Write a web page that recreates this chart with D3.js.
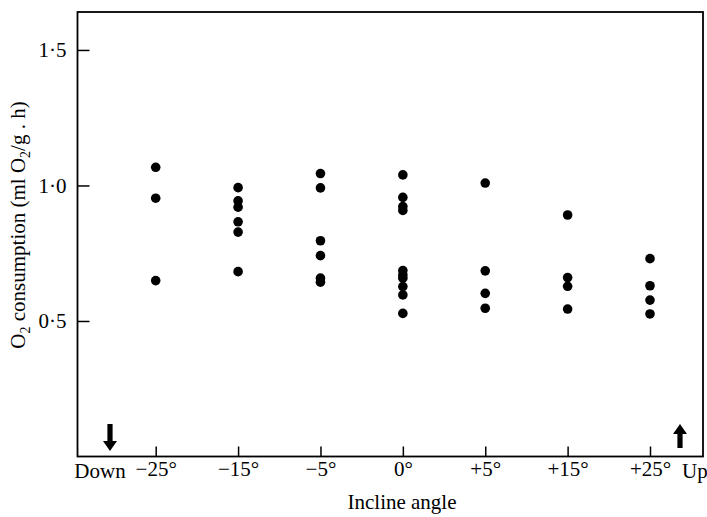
<!DOCTYPE html>
<html>
<head>
<meta charset="utf-8">
<script src="https://cdn.jsdelivr.net/npm/d3@7"></script>
<style>
  body { margin: 0; background: #fff; }
  svg { display: block; }
  text { font-family: "Liberation Serif", "DejaVu Serif", serif; fill: #000; }
</style>
</head>
<body>
<div id="chart"></div>
<script>
// incline angle categories (x axis)
var angles = ["\u221225\u00b0", "\u221215\u00b0", "\u22125\u00b0", "0\u00b0", "+5\u00b0", "+15\u00b0", "+25\u00b0"];

// O2 consumption (ml O2/g.h), one list per angle
var o2_m25 = [1.067, 0.953, 0.649];
var o2_m15 = [0.992, 0.943, 0.920, 0.866, 0.828, 0.682];
var o2_m5  = [1.044, 0.991, 0.796, 0.741, 0.658, 0.643];
var o2_0   = [1.039, 0.956, 0.922, 0.908, 0.686, 0.670, 0.658, 0.627, 0.596, 0.528];
var o2_p5  = [1.009, 0.685, 0.602, 0.547];
var o2_p15 = [0.891, 0.660, 0.628, 0.544];
var o2_p25 = [0.730, 0.630, 0.577, 0.526];

var yTicks = [0.5, 1.0, 1.5];

var groups = [o2_m25, o2_m15, o2_m5, o2_0, o2_p5, o2_p15, o2_p25];
var points = [];
groups.forEach(function(g, i){
	g.forEach(function(v){ points.push({angle: angles[i], value: v}); });
});

var W = 707, H = 517;
var mLeft = 77.5, mRight = 703, mTop = 12, mBottom = 456.5;
var fs = "21px";

var svg = d3.select("#chart").append("svg")
	.attr("width", W).attr("height", H);

var x = d3.scalePoint().domain(angles).range([155.7, 650]);
var y = d3.scaleLinear().domain([0, 1.64]).range([mBottom, mTop]);

// frame
svg.append("rect")
	.attr("x", mLeft).attr("y", mTop)
	.attr("width", mRight - mLeft).attr("height", mBottom - mTop)
	.attr("fill", "none").attr("stroke", "#000").attr("stroke-width", 1.8);

var fmt = function(d){ return d3.format(".1f")(d).replace(".", "\u00b7"); };

var yAxis = svg.append("g")
	.attr("transform", "translate(" + mLeft + ",0)")
	.call(d3.axisLeft(y).tickValues(yTicks).tickSize(-12).tickPadding(11).tickFormat(fmt));

var xAxis = svg.append("g")
	.attr("transform", "translate(0," + mBottom + ")")
	.call(d3.axisBottom(x).tickSize(-10).tickPadding(5));

[yAxis, xAxis].forEach(function(a){
	a.select(".domain").remove();
	a.selectAll("line").attr("stroke", "#000").attr("stroke-width", 1.5);
	a.selectAll("text").style("font-family", "Liberation Serif").style("font-size", fs).attr("fill", "#000");
});

// end labels on the x axis
svg.append("text").attr("x", x(angles[0]) - 30).attr("y", mBottom + 21)
	.attr("text-anchor", "end").style("font-size", fs).text("Down");
svg.append("text").attr("x", 682).attr("y", mBottom + 21)
	.attr("text-anchor", "start").style("font-size", fs).text("Up");

// arrows
function arrow(cx, y0, y1, up){
	var hw = 7, sw = 2.6, hl = 10;
	var p;
	if(up){
		p = [[cx, y0], [cx + hw, y0 + hl], [cx + sw, y0 + hl], [cx + sw, y1], [cx - sw, y1], [cx - sw, y0 + hl], [cx - hw, y0 + hl]];
	} else {
		p = [[cx - sw, y0], [cx + sw, y0], [cx + sw, y1 - hl], [cx + hw, y1 - hl], [cx, y1], [cx - hw, y1 - hl], [cx - sw, y1 - hl]];
	}
	svg.append("polygon").attr("points", p.join(" ")).attr("fill", "#000");
}
arrow(110, 424, 451, false);
arrow(680, 424, 448, true);

// points
svg.append("g").selectAll("circle")
	.data(points).enter().append("circle")
	.attr("cx", function(d){ return x(d.angle); })
	.attr("cy", function(d){ return y(d.value); })
	.attr("r", 4.8)
	.attr("fill", "#000");

// axis titles
svg.append("text").attr("x", 402).attr("y", 509)
	.attr("text-anchor", "middle").style("font-size", fs).text("Incline angle");

var yl = svg.append("text")
	.attr("transform", "translate(25,225) rotate(-90)")
	.attr("text-anchor", "middle").style("font-size", fs);
yl.append("tspan").text("O");
yl.append("tspan").attr("dy", 5).style("font-size", "14px").text("2");
yl.append("tspan").attr("dy", -5).text(" consumption (ml O");
yl.append("tspan").attr("dy", 5).style("font-size", "14px").text("2");
yl.append("tspan").attr("dy", -5).text("/g . h)");
</script>
</body>
</html>
